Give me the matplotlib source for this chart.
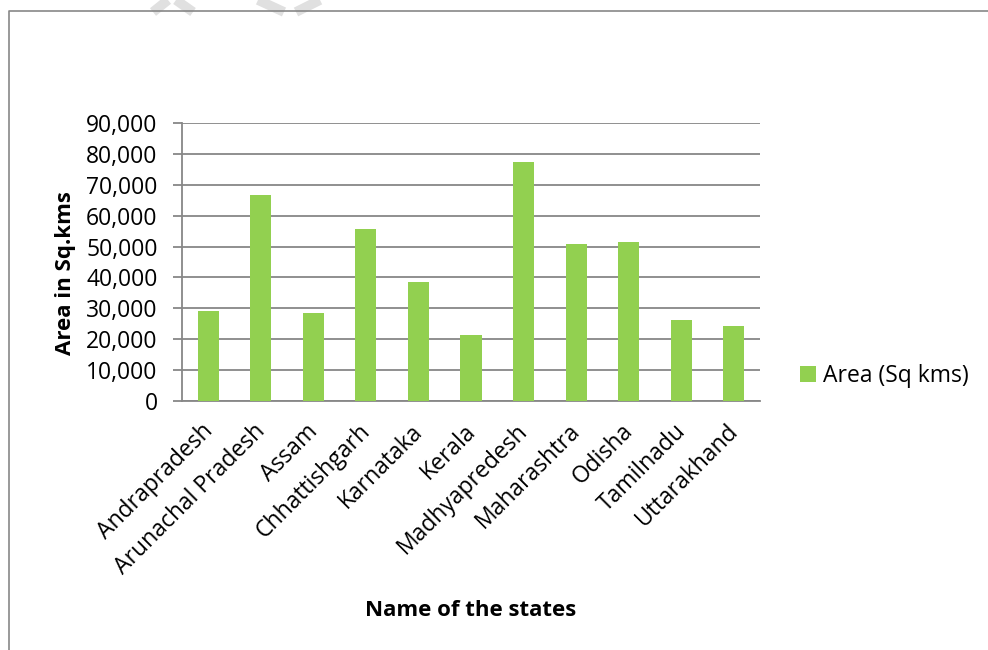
import matplotlib
matplotlib.use("Agg")
import matplotlib.pyplot as plt
from matplotlib.lines import Line2D
from matplotlib.ticker import FuncFormatter
import matplotlib.transforms as mtransforms

states = ["Andrapradesh", "Arunachal Pradesh", "Assam", "Chhattishgarh",
          "Karnataka", "Kerala", "Madhyapredesh", "Maharashtra", "Odisha",
          "Tamilnadu", "Uttarakhand"]
area = [29100, 66700, 28400, 55700, 38500, 21300, 77500, 50800, 51600,
        26300, 24300]
y_ticks = [0, 10000, 20000, 30000, 40000, 50000, 60000, 70000, 80000, 90000]

plt.rcParams["font.family"] = ["Open Sans", "DejaVu Sans"]
grey = "#878787"
green = "#92D050"

fig = plt.figure(figsize=(9.88, 6.5), dpi=100)
ax = fig.add_axes([182 / 988, 1 - 401 / 650, 578 / 988, 278 / 650])

x = range(len(states))
ax.bar(x, area, width=0.4, color=green, label="Area (Sq kms)", zorder=3)

ax.set_xlim(-0.5, len(states) - 0.5)
ax.set_ylim(0, 90000)
ax.set_yticks(y_ticks)
ax.yaxis.set_major_formatter(FuncFormatter(lambda v, p: f"{int(v):,}"))
ax.grid(axis="y", color=grey, linewidth=1.3, zorder=0)

for s in ["top", "right"]:
    ax.spines[s].set_visible(False)
for s in ["left", "bottom"]:
    ax.spines[s].set_color(grey)
    ax.spines[s].set_linewidth(1.3)

ax.tick_params(axis="y", direction="out", length=6.5, width=1.3, color=grey,
               labelsize=16.5, pad=11)
ax.tick_params(axis="x", length=0, labelsize=16.5)
ax.set_xticks(list(x))
ax.set_xticklabels(states, rotation=45, ha="right", va="center",
                   rotation_mode="anchor")
offset = mtransforms.ScaledTranslation(1 / 100, -22 / 100, fig.dpi_scale_trans)
for lbl in ax.get_xticklabels():
    lbl.set_transform(lbl.get_transform() + offset)

fig.text(471 / 988, 1 - 610 / 650, "Name of the states", ha="center",
         va="center", fontsize=16, fontweight="bold")
fig.text(65 / 988, 1 - 273 / 650, "Area in Sq.kms", ha="center", va="center",
         rotation=90, fontsize=16, fontweight="bold")

ax.legend(loc="center left", bbox_to_anchor=(800 / 988, 1 - 376 / 650),
          bbox_transform=fig.transFigure, frameon=False, fontsize=16.5,
          handlelength=0.7, handleheight=0.7, handletextpad=0.3,
          borderpad=0, borderaxespad=0)

# faint watermark strokes at the top edge
wm = "#e0e0e0"
for (x0, y0, x1, y1) in [(153, 12, 168, 0), (176, 0, 193, 12),
                         (258, 0, 284, 12), (320, 0, 296, 12)]:
    fig.add_artist(Line2D([x0 / 988, x1 / 988], [1 - y0 / 650, 1 - y1 / 650],
                          color=wm, linewidth=7, transform=fig.transFigure,
                          solid_capstyle="butt", zorder=0))

# chart area border (left and top edges visible)
fig.add_artist(Line2D([9 / 988, 9 / 988, 1.0], [0.0, 1 - 11 / 650, 1 - 11 / 650],
                      color=grey, linewidth=1.2, transform=fig.transFigure))

fig.savefig("out.png", dpi=100)
